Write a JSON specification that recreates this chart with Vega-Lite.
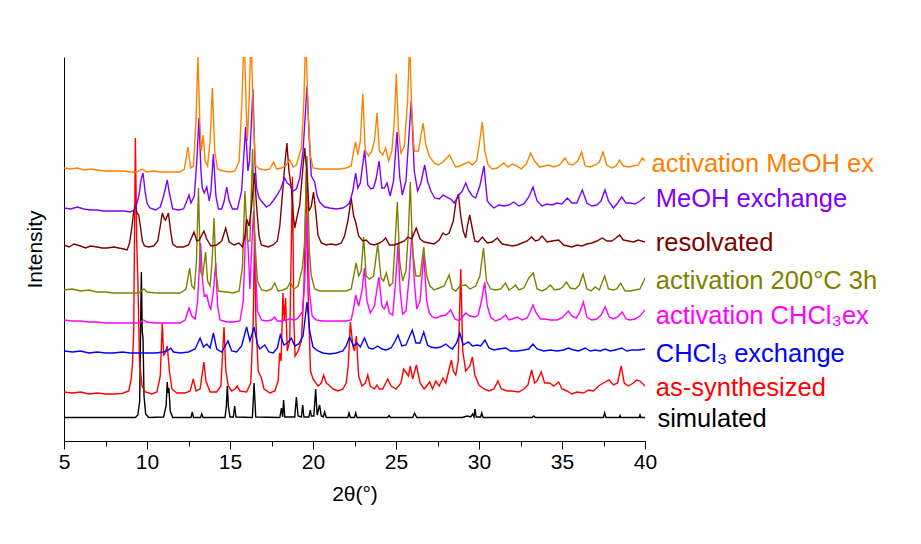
{
"$schema": "https://vega.github.io/schema/vega-lite/v6.json",
"width": 581, "height": 384,
"autosize": {"type": "none"},
"padding": {"left": 64, "top": 57, "right": 276, "bottom": 103},
"config": {"font": "Liberation Sans", "view": {"stroke": null}},
"datasets": {
"sim": [{"x":5,"y":23.5},{"x":8,"y":23.5},{"x":9.3,"y":23.5},{"x":9.45,"y":26},{"x":9.56,"y":40},{"x":9.66,"y":169},{"x":9.71,"y":110},{"x":9.76,"y":103},{"x":9.82,"y":45},{"x":9.92,"y":27},{"x":10.1,"y":23.5},{"x":11.0,"y":24},{"x":11.15,"y":35},{"x":11.22,"y":59},{"x":11.27,"y":48},{"x":11.32,"y":53},{"x":11.4,"y":30},{"x":11.55,"y":23.5},{"x":12.65,"y":23.5},{"x":12.73,"y":29},{"x":12.8,"y":23.5},{"x":13.22,"y":23.5},{"x":13.3,"y":27},{"x":13.38,"y":23.5},{"x":14.7,"y":23.5},{"x":14.78,"y":35},{"x":14.84,"y":55},{"x":14.9,"y":35},{"x":15.0,"y":24},{"x":15.2,"y":24},{"x":15.28,"y":35},{"x":15.36,"y":24},{"x":16.35,"y":23.5},{"x":16.45,"y":58},{"x":16.55,"y":24},{"x":18.0,"y":23.5},{"x":18.1,"y":33},{"x":18.17,"y":24},{"x":18.23,"y":41},{"x":18.3,"y":24},{"x":18.9,"y":24},{"x":19.0,"y":44},{"x":19.1,"y":25},{"x":19.3,"y":24},{"x":19.38,"y":36},{"x":19.45,"y":24},{"x":19.75,"y":24},{"x":19.84,"y":31},{"x":19.9,"y":25},{"x":20.05,"y":25},{"x":20.16,"y":52},{"x":20.25,"y":26},{"x":20.4,"y":36},{"x":20.5,"y":25},{"x":20.62,"y":24},{"x":20.7,"y":29},{"x":20.8,"y":23.5},{"x":22.1,"y":23.5},{"x":22.17,"y":28},{"x":22.25,"y":23.5},{"x":22.5,"y":23.5},{"x":22.57,"y":28},{"x":22.65,"y":23.5},{"x":24.5,"y":23.5},{"x":24.58,"y":25.5},{"x":24.66,"y":23.5},{"x":26.0,"y":23.5},{"x":26.12,"y":27.7},{"x":26.25,"y":23.5},{"x":29.0,"y":23.5},{"x":29.3,"y":25},{"x":29.5,"y":24},{"x":29.62,"y":27},{"x":29.7,"y":24},{"x":29.76,"y":32},{"x":29.83,"y":24},{"x":30.1,"y":24},{"x":30.16,"y":28},{"x":30.25,"y":23.5},{"x":33.2,"y":23.5},{"x":33.3,"y":25},{"x":33.4,"y":23.5},{"x":37.5,"y":23.5},{"x":37.57,"y":28},{"x":37.65,"y":23.5},{"x":38.45,"y":23.5},{"x":38.5,"y":25.5},{"x":38.55,"y":23.5},{"x":39.65,"y":23.5},{"x":39.7,"y":26},{"x":39.75,"y":23.5},{"x":40,"y":23.5}],
"red": [{"x":5.0,"y":49},{"x":5.5,"y":48},{"x":6.0,"y":49},{"x":6.5,"y":47},{"x":7.0,"y":48},{"x":7.5,"y":47},{"x":8.0,"y":47},{"x":8.5,"y":47.5},{"x":8.9,"y":50},{"x":9.05,"y":62},{"x":9.12,"y":76},{"x":9.2,"y":110},{"x":9.3,"y":303},{"x":9.38,"y":200},{"x":9.45,"y":160},{"x":9.55,"y":80},{"x":9.7,"y":55},{"x":9.9,"y":49},{"x":10.3,"y":47},{"x":10.6,"y":49},{"x":10.8,"y":65},{"x":10.92,"y":118},{"x":11.0,"y":86},{"x":11.1,"y":88},{"x":11.22,"y":95},{"x":11.35,"y":70},{"x":11.5,"y":52},{"x":11.8,"y":48},{"x":12.3,"y":48},{"x":12.6,"y":50},{"x":12.79,"y":62},{"x":12.95,"y":50},{"x":13.2,"y":52},{"x":13.35,"y":70},{"x":13.43,"y":79},{"x":13.55,"y":60},{"x":13.8,"y":49},{"x":14.2,"y":49},{"x":14.45,"y":55},{"x":14.64,"y":114},{"x":14.75,"y":70},{"x":14.9,"y":55},{"x":15.1,"y":50},{"x":15.3,"y":52},{"x":15.44,"y":55},{"x":15.6,"y":50},{"x":16.0,"y":49},{"x":16.25,"y":58},{"x":16.4,"y":120},{"x":16.48,"y":208},{"x":16.56,"y":120},{"x":16.7,"y":70},{"x":16.89,"y":63},{"x":17.05,"y":52},{"x":17.4,"y":48},{"x":17.7,"y":50},{"x":17.9,"y":60},{"x":17.99,"y":88},{"x":18.08,"y":80},{"x":18.19,"y":148},{"x":18.27,"y":120},{"x":18.35,"y":143},{"x":18.45,"y":90},{"x":18.6,"y":100},{"x":18.76,"y":264},{"x":18.85,"y":120},{"x":18.92,"y":85},{"x":19.1,"y":90},{"x":19.3,"y":100},{"x":19.45,"y":150},{"x":19.6,"y":271},{"x":19.7,"y":150},{"x":19.85,"y":70},{"x":20.0,"y":62},{"x":20.3,"y":55},{"x":20.5,"y":58},{"x":20.64,"y":66},{"x":20.8,"y":58},{"x":20.96,"y":56},{"x":21.2,"y":52},{"x":21.5,"y":50},{"x":21.8,"y":52},{"x":22.0,"y":58},{"x":22.12,"y":75},{"x":22.25,"y":119},{"x":22.4,"y":95},{"x":22.5,"y":90},{"x":22.61,"y":105},{"x":22.75,"y":65},{"x":22.95,"y":55},{"x":23.15,"y":58},{"x":23.3,"y":66},{"x":23.45,"y":55},{"x":23.7,"y":52},{"x":23.85,"y":56},{"x":24.0,"y":52},{"x":24.2,"y":52},{"x":24.5,"y":62},{"x":24.7,"y":55},{"x":25.0,"y":52},{"x":25.3,"y":58},{"x":25.46,"y":72},{"x":25.63,"y":68},{"x":25.75,"y":65},{"x":25.86,"y":75},{"x":26.0,"y":62},{"x":26.23,"y":76},{"x":26.45,"y":58},{"x":26.7,"y":52},{"x":27.03,"y":59},{"x":27.2,"y":52},{"x":27.4,"y":60},{"x":27.6,"y":55},{"x":27.83,"y":63},{"x":28.0,"y":58},{"x":28.2,"y":72},{"x":28.34,"y":81},{"x":28.45,"y":70},{"x":28.6,"y":66},{"x":28.75,"y":80},{"x":28.9,"y":172},{"x":29.02,"y":90},{"x":29.2,"y":70},{"x":29.45,"y":75},{"x":29.6,"y":84},{"x":29.75,"y":66},{"x":30.0,"y":56},{"x":30.3,"y":52},{"x":30.6,"y":50},{"x":30.9,"y":52},{"x":31.14,"y":60},{"x":31.35,"y":52},{"x":31.7,"y":50},{"x":32.0,"y":50},{"x":32.4,"y":49},{"x":32.7,"y":52},{"x":32.95,"y":56},{"x":33.17,"y":71},{"x":33.35,"y":58},{"x":33.5,"y":60},{"x":33.75,"y":69},{"x":33.95,"y":58},{"x":34.26,"y":58},{"x":34.5,"y":55},{"x":34.8,"y":59},{"x":35.0,"y":52},{"x":35.3,"y":50},{"x":35.6,"y":47},{"x":35.9,"y":49},{"x":36.3,"y":48},{"x":36.6,"y":51},{"x":36.9,"y":50},{"x":37.2,"y":55},{"x":37.5,"y":58},{"x":37.83,"y":61},{"x":38.1,"y":56},{"x":38.35,"y":58},{"x":38.57,"y":75},{"x":38.75,"y":58},{"x":39.0,"y":55},{"x":39.3,"y":58},{"x":39.5,"y":61},{"x":39.7,"y":60},{"x":40.0,"y":55}],
"blue": [{"x":5.0,"y":90},{"x":5.5,"y":89},{"x":6.0,"y":90},{"x":6.5,"y":88},{"x":7.0,"y":89},{"x":7.5,"y":88},{"x":8.0,"y":88},{"x":8.5,"y":89},{"x":9.0,"y":88},{"x":9.5,"y":88},{"x":10.0,"y":88},{"x":10.5,"y":88},{"x":11.0,"y":89},{"x":11.3,"y":91},{"x":11.43,"y":93},{"x":11.6,"y":89},{"x":12.0,"y":88},{"x":12.5,"y":89},{"x":12.9,"y":92},{"x":13.2,"y":103},{"x":13.4,"y":94},{"x":13.6,"y":97},{"x":13.8,"y":93},{"x":14.0,"y":108},{"x":14.2,"y":92},{"x":14.5,"y":89},{"x":14.88,"y":100},{"x":15.1,"y":90},{"x":15.4,"y":89},{"x":15.7,"y":95},{"x":16.0,"y":114},{"x":16.2,"y":100},{"x":16.45,"y":114},{"x":16.65,"y":97},{"x":16.8,"y":92},{"x":17.09,"y":96},{"x":17.35,"y":89},{"x":17.6,"y":88},{"x":17.85,"y":93},{"x":18.03,"y":106},{"x":18.25,"y":96},{"x":18.45,"y":98},{"x":18.7,"y":103},{"x":18.9,"y":95},{"x":19.14,"y":97},{"x":19.4,"y":105},{"x":19.64,"y":139},{"x":19.8,"y":110},{"x":20.0,"y":94},{"x":20.3,"y":90},{"x":20.6,"y":88},{"x":21.0,"y":87},{"x":21.4,"y":88},{"x":21.8,"y":90},{"x":22.0,"y":95},{"x":22.2,"y":104},{"x":22.45,"y":95},{"x":22.65,"y":98},{"x":22.85,"y":94},{"x":23.1,"y":103},{"x":23.35,"y":93},{"x":23.6,"y":92},{"x":23.9,"y":95},{"x":24.15,"y":92},{"x":24.4,"y":91},{"x":24.7,"y":93},{"x":24.95,"y":100},{"x":25.12,"y":106},{"x":25.35,"y":95},{"x":25.6,"y":96},{"x":25.98,"y":111},{"x":26.2,"y":98},{"x":26.45,"y":98},{"x":26.67,"y":109},{"x":26.9,"y":96},{"x":27.1,"y":94},{"x":27.4,"y":93},{"x":27.7,"y":94},{"x":28.0,"y":97},{"x":28.2,"y":94},{"x":28.4,"y":92},{"x":28.65,"y":98},{"x":28.84,"y":108},{"x":29.05,"y":96},{"x":29.36,"y":99},{"x":29.6,"y":95},{"x":29.9,"y":96},{"x":30.1,"y":95},{"x":30.36,"y":101},{"x":30.6,"y":93},{"x":30.9,"y":91},{"x":31.2,"y":92},{"x":31.6,"y":93},{"x":31.9,"y":90},{"x":32.3,"y":90},{"x":32.7,"y":91},{"x":33.0,"y":92},{"x":33.25,"y":97},{"x":33.5,"y":92},{"x":33.9,"y":90},{"x":34.3,"y":91},{"x":34.7,"y":90},{"x":35.1,"y":91},{"x":35.38,"y":93},{"x":35.7,"y":91},{"x":36.0,"y":90},{"x":36.4,"y":93},{"x":36.7,"y":90},{"x":37.0,"y":91},{"x":37.3,"y":90},{"x":37.6,"y":92},{"x":37.9,"y":90},{"x":38.2,"y":91},{"x":38.6,"y":93},{"x":38.9,"y":90},{"x":39.2,"y":91},{"x":39.6,"y":91},{"x":40.0,"y":92}],
"magenta": [{"x":5.0,"y":121},{"x":5.5,"y":120},{"x":6.0,"y":120},{"x":6.5,"y":119},{"x":7.0,"y":119},{"x":7.5,"y":118},{"x":8.0,"y":118},{"x":8.5,"y":118},{"x":9.0,"y":118},{"x":9.5,"y":118},{"x":9.8,"y":121},{"x":10.0,"y":119},{"x":10.5,"y":118},{"x":11.0,"y":118},{"x":11.5,"y":118},{"x":12.0,"y":118},{"x":12.3,"y":121},{"x":12.53,"y":133},{"x":12.7,"y":125},{"x":12.9,"y":122},{"x":13.05,"y":140},{"x":13.23,"y":198},{"x":13.35,"y":160},{"x":13.45,"y":145},{"x":13.6,"y":146},{"x":13.75,"y":135},{"x":13.84,"y":132},{"x":14.0,"y":150},{"x":14.14,"y":178},{"x":14.25,"y":135},{"x":14.4,"y":121},{"x":14.8,"y":119},{"x":15.2,"y":119},{"x":15.6,"y":120},{"x":15.8,"y":140},{"x":15.92,"y":200},{"x":16.0,"y":220},{"x":16.1,"y":190},{"x":16.2,"y":152},{"x":16.3,"y":190},{"x":16.42,"y":230},{"x":16.52,"y":180},{"x":16.65,"y":130},{"x":16.9,"y":121},{"x":17.2,"y":120},{"x":17.5,"y":121},{"x":17.69,"y":124},{"x":17.85,"y":120},{"x":18.1,"y":120},{"x":18.4,"y":121},{"x":18.6,"y":122},{"x":18.9,"y":121},{"x":19.1,"y":123},{"x":19.36,"y":129},{"x":19.5,"y":160},{"x":19.65,"y":225},{"x":19.78,"y":150},{"x":19.95,"y":125},{"x":20.2,"y":121},{"x":20.6,"y":120},{"x":21.0,"y":120},{"x":21.5,"y":120},{"x":22.0,"y":120},{"x":22.3,"y":121},{"x":22.45,"y":133},{"x":22.57,"y":146},{"x":22.75,"y":135},{"x":22.95,"y":150},{"x":23.1,"y":173},{"x":23.25,"y":140},{"x":23.45,"y":128},{"x":23.7,"y":135},{"x":23.97,"y":164},{"x":24.15,"y":135},{"x":24.3,"y":132},{"x":24.46,"y":139},{"x":24.6,"y":128},{"x":24.8,"y":126},{"x":24.98,"y":160},{"x":25.12,"y":197},{"x":25.25,"y":150},{"x":25.4,"y":127},{"x":25.6,"y":130},{"x":25.8,"y":165},{"x":25.96,"y":210},{"x":26.1,"y":160},{"x":26.25,"y":132},{"x":26.45,"y":140},{"x":26.67,"y":186},{"x":26.85,"y":140},{"x":27.0,"y":128},{"x":27.2,"y":124},{"x":27.4,"y":123},{"x":27.7,"y":125},{"x":28.0,"y":126},{"x":28.3,"y":131},{"x":28.55,"y":122},{"x":28.8,"y":120},{"x":29.0,"y":124},{"x":29.2,"y":128},{"x":29.45,"y":125},{"x":29.75,"y":124},{"x":29.95,"y":126},{"x":30.15,"y":140},{"x":30.34,"y":159},{"x":30.5,"y":135},{"x":30.7,"y":124},{"x":31.0,"y":120},{"x":31.3,"y":122},{"x":31.6,"y":126},{"x":31.8,"y":121},{"x":32.0,"y":122},{"x":32.3,"y":124},{"x":32.6,"y":121},{"x":32.9,"y":123},{"x":33.05,"y":128},{"x":33.25,"y":136},{"x":33.45,"y":128},{"x":33.7,"y":122},{"x":34.0,"y":122},{"x":34.3,"y":121},{"x":34.7,"y":121},{"x":35.0,"y":123},{"x":35.38,"y":130},{"x":35.6,"y":125},{"x":35.85,"y":123},{"x":36.05,"y":128},{"x":36.29,"y":139},{"x":36.5,"y":124},{"x":36.8,"y":121},{"x":37.1,"y":122},{"x":37.35,"y":126},{"x":37.6,"y":134},{"x":37.85,"y":124},{"x":38.1,"y":122},{"x":38.35,"y":124},{"x":38.63,"y":129},{"x":38.85,"y":122},{"x":39.1,"y":121},{"x":39.4,"y":122},{"x":39.7,"y":125},{"x":40.0,"y":131}],
"olive": [{"x":5.0,"y":151},{"x":5.5,"y":152},{"x":6.0,"y":150},{"x":6.5,"y":151},{"x":7.0,"y":149},{"x":7.5,"y":149},{"x":8.0,"y":148},{"x":8.5,"y":148},{"x":9.0,"y":148},{"x":9.5,"y":148},{"x":9.82,"y":152},{"x":10.0,"y":149},{"x":10.5,"y":148},{"x":11.0,"y":148},{"x":11.5,"y":148},{"x":12.0,"y":148},{"x":12.35,"y":152},{"x":12.57,"y":173},{"x":12.7,"y":155},{"x":12.85,"y":152},{"x":12.98,"y":180},{"x":13.1,"y":253},{"x":13.22,"y":170},{"x":13.35,"y":165},{"x":13.53,"y":189},{"x":13.65,"y":160},{"x":13.8,"y":155},{"x":13.92,"y":180},{"x":14.04,"y":223},{"x":14.15,"y":170},{"x":14.3,"y":150},{"x":14.8,"y":149},{"x":15.2,"y":148},{"x":15.55,"y":150},{"x":15.75,"y":175},{"x":15.9,"y":250},{"x":16.05,"y":200},{"x":16.2,"y":200},{"x":16.36,"y":292},{"x":16.5,"y":200},{"x":16.65,"y":160},{"x":16.9,"y":151},{"x":17.2,"y":150},{"x":17.5,"y":152},{"x":17.69,"y":158},{"x":17.9,"y":150},{"x":18.2,"y":151},{"x":18.45,"y":153},{"x":18.63,"y":159},{"x":18.85,"y":152},{"x":19.1,"y":155},{"x":19.36,"y":173},{"x":19.5,"y":200},{"x":19.64,"y":285},{"x":19.78,"y":190},{"x":19.9,"y":165},{"x":20.1,"y":152},{"x":20.4,"y":150},{"x":20.8,"y":150},{"x":21.2,"y":150},{"x":21.6,"y":150},{"x":22.0,"y":150},{"x":22.3,"y":152},{"x":22.45,"y":165},{"x":22.6,"y":178},{"x":22.75,"y":165},{"x":22.9,"y":170},{"x":23.05,"y":204},{"x":23.2,"y":165},{"x":23.4,"y":162},{"x":23.65,"y":165},{"x":23.9,"y":197},{"x":24.1,"y":163},{"x":24.25,"y":160},{"x":24.42,"y":168},{"x":24.6,"y":155},{"x":24.8,"y":158},{"x":24.95,"y":200},{"x":25.08,"y":239},{"x":25.22,"y":180},{"x":25.4,"y":160},{"x":25.6,"y":170},{"x":25.75,"y":210},{"x":25.86,"y":259},{"x":26.0,"y":190},{"x":26.2,"y":165},{"x":26.45,"y":165},{"x":26.67,"y":194},{"x":26.85,"y":165},{"x":27.05,"y":155},{"x":27.3,"y":151},{"x":27.6,"y":153},{"x":27.9,"y":155},{"x":28.2,"y":166},{"x":28.4,"y":152},{"x":28.6,"y":150},{"x":28.85,"y":155},{"x":29.2,"y":156},{"x":29.45,"y":152},{"x":29.8,"y":155},{"x":30.05,"y":165},{"x":30.27,"y":193},{"x":30.45,"y":160},{"x":30.7,"y":152},{"x":31.0,"y":151},{"x":31.3,"y":152},{"x":31.6,"y":158},{"x":31.8,"y":151},{"x":32.0,"y":153},{"x":32.2,"y":156},{"x":32.4,"y":151},{"x":32.7,"y":153},{"x":33.0,"y":163},{"x":33.27,"y":168},{"x":33.5,"y":152},{"x":33.8,"y":150},{"x":34.05,"y":152},{"x":34.3,"y":156},{"x":34.55,"y":151},{"x":34.85,"y":152},{"x":35.05,"y":154},{"x":35.26,"y":159},{"x":35.5,"y":153},{"x":35.8,"y":152},{"x":36.05,"y":156},{"x":36.27,"y":167},{"x":36.5,"y":152},{"x":36.75,"y":150},{"x":37.0,"y":154},{"x":37.25,"y":151},{"x":37.57,"y":165},{"x":37.8,"y":152},{"x":38.1,"y":151},{"x":38.3,"y":152},{"x":38.53,"y":158},{"x":38.8,"y":150},{"x":39.1,"y":150},{"x":39.4,"y":151},{"x":39.7,"y":152},{"x":40.0,"y":163}],
"maroon": [{"x":5.0,"y":196},{"x":5.3,"y":194},{"x":5.6,"y":197},{"x":6.0,"y":195},{"x":6.3,"y":193},{"x":6.6,"y":195},{"x":7.0,"y":194},{"x":7.3,"y":193},{"x":7.6,"y":193},{"x":8.0,"y":194},{"x":8.3,"y":193},{"x":8.6,"y":192},{"x":8.8,"y":191},{"x":8.95,"y":198},{"x":9.1,"y":215},{"x":9.2,"y":230},{"x":9.3,"y":236},{"x":9.4,"y":228},{"x":9.5,"y":226},{"x":9.6,"y":215},{"x":9.72,"y":200},{"x":9.85,"y":195},{"x":10.1,"y":194},{"x":10.4,"y":195},{"x":10.65,"y":200},{"x":10.8,"y":215},{"x":10.92,"y":228},{"x":11.05,"y":222},{"x":11.12,"y":221},{"x":11.29,"y":228},{"x":11.42,"y":210},{"x":11.55,"y":197},{"x":11.8,"y":194},{"x":12.2,"y":194},{"x":12.5,"y":196},{"x":12.83,"y":209},{"x":13.0,"y":200},{"x":13.15,"y":201},{"x":13.43,"y":210},{"x":13.6,"y":202},{"x":13.85,"y":195},{"x":14.2,"y":196},{"x":14.5,"y":200},{"x":14.74,"y":213},{"x":14.95,"y":199},{"x":15.25,"y":196},{"x":15.54,"y":198},{"x":15.75,"y":194},{"x":15.9,"y":205},{"x":16.0,"y":222},{"x":16.15,"y":215},{"x":16.3,"y":235},{"x":16.47,"y":268},{"x":16.6,"y":235},{"x":16.75,"y":205},{"x":16.89,"y":196},{"x":17.1,"y":195},{"x":17.3,"y":194},{"x":17.6,"y":196},{"x":17.85,"y":200},{"x":18.0,"y":215},{"x":18.19,"y":253},{"x":18.32,"y":280},{"x":18.43,"y":298},{"x":18.55,"y":270},{"x":18.7,"y":253},{"x":18.82,"y":225},{"x":18.9,"y":213},{"x":19.05,"y":225},{"x":19.2,"y":236},{"x":19.35,"y":265},{"x":19.5,"y":293},{"x":19.62,"y":270},{"x":19.76,"y":230},{"x":19.9,"y":235},{"x":20.03,"y":249},{"x":20.15,"y":232},{"x":20.3,"y":206},{"x":20.5,"y":198},{"x":20.8,"y":196},{"x":21.1,"y":197},{"x":21.4,"y":196},{"x":21.7,"y":198},{"x":21.9,"y":205},{"x":22.1,"y":220},{"x":22.3,"y":243},{"x":22.45,"y":225},{"x":22.57,"y":219},{"x":22.75,"y":205},{"x":23.0,"y":200},{"x":23.2,"y":201},{"x":23.45,"y":197},{"x":23.7,"y":196},{"x":24.0,"y":198},{"x":24.2,"y":200},{"x":24.38,"y":203},{"x":24.6,"y":196},{"x":24.9,"y":196},{"x":25.2,"y":198},{"x":25.5,"y":200},{"x":25.72,"y":204},{"x":25.95,"y":202},{"x":26.22,"y":213},{"x":26.45,"y":202},{"x":26.7,"y":199},{"x":27.0,"y":198},{"x":27.3,"y":197},{"x":27.6,"y":201},{"x":27.83,"y":208},{"x":28.0,"y":206},{"x":28.2,"y":208},{"x":28.45,"y":220},{"x":28.62,"y":240},{"x":28.76,"y":247},{"x":28.9,"y":225},{"x":29.05,"y":210},{"x":29.2,"y":203},{"x":29.3,"y":215},{"x":29.44,"y":226},{"x":29.6,"y":212},{"x":29.75,"y":200},{"x":29.95,"y":199},{"x":30.2,"y":204},{"x":30.5,"y":198},{"x":30.8,"y":199},{"x":31.1,"y":203},{"x":31.4,"y":197},{"x":31.7,"y":196},{"x":32.0,"y":195},{"x":32.3,"y":196},{"x":32.6,"y":198},{"x":32.9,"y":200},{"x":33.17,"y":204},{"x":33.4,"y":200},{"x":33.6,"y":201},{"x":33.8,"y":205},{"x":34.1,"y":199},{"x":34.4,"y":200},{"x":34.8,"y":201},{"x":35.1,"y":196},{"x":35.35,"y":195},{"x":35.6,"y":194},{"x":35.9,"y":196},{"x":36.2,"y":195},{"x":36.5,"y":197},{"x":36.8,"y":198},{"x":37.1,"y":200},{"x":37.43,"y":203},{"x":37.7,"y":200},{"x":38.0,"y":200},{"x":38.25,"y":203},{"x":38.47,"y":206},{"x":38.7,"y":201},{"x":39.0,"y":200},{"x":39.3,"y":199},{"x":39.6,"y":201},{"x":40.0,"y":199}],
"violet": [{"x":5.0,"y":233},{"x":5.4,"y":232},{"x":5.8,"y":234},{"x":6.2,"y":232},{"x":6.6,"y":231},{"x":7.0,"y":231},{"x":7.4,"y":230},{"x":7.8,"y":230},{"x":8.2,"y":230},{"x":8.6,"y":230},{"x":9.0,"y":229},{"x":9.3,"y":232},{"x":9.52,"y":246},{"x":9.65,"y":262},{"x":9.76,"y":268},{"x":9.88,"y":250},{"x":10.0,"y":238},{"x":10.18,"y":233},{"x":10.5,"y":231},{"x":10.8,"y":234},{"x":11.0,"y":245},{"x":11.22,"y":261},{"x":11.35,"y":248},{"x":11.55,"y":232},{"x":11.9,"y":231},{"x":12.2,"y":232},{"x":12.4,"y":240},{"x":12.53,"y":246},{"x":12.65,"y":238},{"x":12.85,"y":245},{"x":13.0,"y":280},{"x":13.13,"y":323},{"x":13.25,"y":270},{"x":13.33,"y":253},{"x":13.45,"y":248},{"x":13.6,"y":254},{"x":13.75,"y":240},{"x":13.85,"y":250},{"x":14.0,"y":287},{"x":14.15,"y":245},{"x":14.3,"y":232},{"x":14.5,"y":232},{"x":14.65,"y":240},{"x":14.8,"y":254},{"x":14.95,"y":240},{"x":15.15,"y":232},{"x":15.45,"y":232},{"x":15.7,"y":250},{"x":15.94,"y":314},{"x":16.08,"y":270},{"x":16.18,"y":280},{"x":16.38,"y":352},{"x":16.5,"y":280},{"x":16.6,"y":253},{"x":16.75,"y":243},{"x":16.89,"y":240},{"x":17.19,"y":234},{"x":17.4,"y":236},{"x":17.59,"y":240},{"x":17.8,"y":245},{"x":18.05,"y":252},{"x":18.29,"y":263},{"x":18.45,"y":258},{"x":18.6,"y":256},{"x":18.8,"y":250},{"x":19.0,"y":252},{"x":19.2,"y":263},{"x":19.4,"y":290},{"x":19.64,"y":355},{"x":19.78,"y":300},{"x":19.9,"y":265},{"x":20.1,"y":259},{"x":20.25,"y":245},{"x":20.4,"y":239},{"x":20.7,"y":234},{"x":21.0,"y":233},{"x":21.4,"y":232},{"x":21.8,"y":233},{"x":22.0,"y":235},{"x":22.2,"y":238},{"x":22.4,"y":250},{"x":22.57,"y":268},{"x":22.7,"y":253},{"x":22.85,"y":258},{"x":23.11,"y":291},{"x":23.3,"y":256},{"x":23.5,"y":252},{"x":23.65,"y":253},{"x":23.8,"y":262},{"x":23.98,"y":280},{"x":24.15,"y":253},{"x":24.3,"y":253},{"x":24.46,"y":258},{"x":24.65,"y":245},{"x":24.85,"y":260},{"x":25.06,"y":309},{"x":25.22,"y":265},{"x":25.38,"y":246},{"x":25.6,"y":260},{"x":25.92,"y":340},{"x":26.1,"y":270},{"x":26.3,"y":250},{"x":26.5,"y":258},{"x":26.73,"y":276},{"x":26.9,"y":260},{"x":27.1,"y":250},{"x":27.33,"y":243},{"x":27.6,"y":242},{"x":27.85,"y":246},{"x":28.03,"y":244},{"x":28.3,"y":242},{"x":28.5,"y":238},{"x":28.75,"y":245},{"x":29.0,"y":250},{"x":29.2,"y":258},{"x":29.4,"y":250},{"x":29.6,"y":245},{"x":29.8,"y":243},{"x":30.05,"y":255},{"x":30.3,"y":275},{"x":30.5,"y":240},{"x":30.7,"y":236},{"x":30.9,"y":233},{"x":31.2,"y":236},{"x":31.5,"y":235},{"x":31.8,"y":236},{"x":32.1,"y":239},{"x":32.4,"y":235},{"x":32.7,"y":237},{"x":33.0,"y":244},{"x":33.25,"y":254},{"x":33.5,"y":240},{"x":33.8,"y":235},{"x":34.1,"y":237},{"x":34.4,"y":236},{"x":34.7,"y":238},{"x":35.0,"y":237},{"x":35.32,"y":243},{"x":35.6,"y":238},{"x":35.9,"y":238},{"x":36.22,"y":251},{"x":36.5,"y":238},{"x":36.8,"y":235},{"x":37.1,"y":236},{"x":37.35,"y":240},{"x":37.59,"y":251},{"x":37.8,"y":240},{"x":38.1,"y":233},{"x":38.35,"y":238},{"x":38.6,"y":244},{"x":38.85,"y":238},{"x":39.1,"y":238},{"x":39.4,"y":237},{"x":39.7,"y":240},{"x":40.0,"y":244}],
"orange": [{"x":5.0,"y":273},{"x":5.4,"y":272},{"x":5.8,"y":273},{"x":6.2,"y":271},{"x":6.6,"y":272},{"x":7.0,"y":271},{"x":7.4,"y":270},{"x":7.8,"y":270},{"x":8.2,"y":270},{"x":8.6,"y":270},{"x":9.0,"y":269},{"x":9.4,"y":269},{"x":9.7,"y":272},{"x":10.0,"y":269},{"x":10.4,"y":270},{"x":10.8,"y":269},{"x":11.2,"y":269},{"x":11.6,"y":269},{"x":12.0,"y":269},{"x":12.25,"y":272},{"x":12.47,"y":294},{"x":12.62,"y":273},{"x":12.8,"y":275},{"x":12.95,"y":320},{"x":13.07,"y":384},{"x":13.18,"y":320},{"x":13.27,"y":290},{"x":13.39,"y":306},{"x":13.5,"y":280},{"x":13.65,"y":275},{"x":13.8,"y":300},{"x":13.94,"y":353},{"x":14.08,"y":290},{"x":14.25,"y":272},{"x":14.6,"y":270},{"x":15.0,"y":269},{"x":15.3,"y":270},{"x":15.55,"y":280},{"x":15.72,"y":340},{"x":15.85,"y":410},{"x":15.98,"y":330},{"x":16.05,"y":300},{"x":16.15,"y":340},{"x":16.27,"y":410},{"x":16.4,"y":320},{"x":16.55,"y":275},{"x":16.8,"y":272},{"x":17.1,"y":271},{"x":17.4,"y":272},{"x":17.63,"y":279},{"x":17.8,"y":272},{"x":18.1,"y":273},{"x":18.4,"y":276},{"x":18.6,"y":281},{"x":18.8,"y":274},{"x":19.0,"y":276},{"x":19.3,"y":293},{"x":19.45,"y":340},{"x":19.56,"y":410},{"x":19.7,"y":330},{"x":19.85,"y":285},{"x":20.0,"y":273},{"x":20.4,"y":272},{"x":20.8,"y":272},{"x":21.2,"y":272},{"x":21.6,"y":272},{"x":22.0,"y":273},{"x":22.3,"y":275},{"x":22.45,"y":290},{"x":22.57,"y":299},{"x":22.7,"y":286},{"x":22.85,"y":300},{"x":23.0,"y":347},{"x":23.15,"y":290},{"x":23.35,"y":285},{"x":23.55,"y":290},{"x":23.7,"y":300},{"x":23.86,"y":328},{"x":24.0,"y":290},{"x":24.2,"y":286},{"x":24.38,"y":293},{"x":24.55,"y":280},{"x":24.75,"y":290},{"x":24.9,"y":320},{"x":25.02,"y":367},{"x":25.15,"y":310},{"x":25.3,"y":288},{"x":25.5,"y":295},{"x":25.7,"y":340},{"x":25.82,"y":400},{"x":25.95,"y":330},{"x":26.1,"y":290},{"x":26.35,"y":290},{"x":26.63,"y":318},{"x":26.8,"y":296},{"x":27.0,"y":285},{"x":27.3,"y":278},{"x":27.55,"y":276},{"x":27.83,"y":279},{"x":28.05,"y":283},{"x":28.23,"y":286},{"x":28.4,"y":280},{"x":28.6,"y":274},{"x":28.85,"y":275},{"x":29.1,"y":277},{"x":29.4,"y":279},{"x":29.6,"y":276},{"x":29.85,"y":280},{"x":30.0,"y":295},{"x":30.2,"y":319},{"x":30.35,"y":290},{"x":30.55,"y":276},{"x":30.8,"y":272},{"x":31.1,"y":273},{"x":31.5,"y":278},{"x":31.75,"y":274},{"x":32.0,"y":277},{"x":32.3,"y":275},{"x":32.55,"y":272},{"x":32.85,"y":277},{"x":33.11,"y":288},{"x":33.35,"y":280},{"x":33.65,"y":274},{"x":33.95,"y":275},{"x":34.2,"y":276},{"x":34.5,"y":274},{"x":34.85,"y":276},{"x":35.18,"y":283},{"x":35.4,"y":277},{"x":35.65,"y":276},{"x":35.95,"y":280},{"x":36.18,"y":289},{"x":36.4,"y":275},{"x":36.7,"y":274},{"x":37.0,"y":276},{"x":37.25,"y":279},{"x":37.47,"y":289},{"x":37.7,"y":276},{"x":38.0,"y":273},{"x":38.25,"y":275},{"x":38.47,"y":281},{"x":38.7,"y":275},{"x":39.0,"y":274},{"x":39.3,"y":275},{"x":39.6,"y":276},{"x":39.84,"y":283},{"x":40.0,"y":280}],
"labels": [{"t":"activation MeOH ex","x":40.39,"y":277},{"t":"MeOH exchange","x":40.65,"y":242},{"t":"resolvated","x":40.65,"y":198},{"t":"activation 200°C 3h","x":40.65,"y":160},{"t":"activation CHCl₃ex","x":40.65,"y":125},{"t":"CHCl₃ exchange","x":40.65,"y":87},{"t":"as-synthesized","x":40.65,"y":53},{"t":"simulated","x":40.75,"y":22}]
},
"layer": [
{"data": {"name": "sim"}, "mark": {"type": "line", "color": "#000000", "strokeWidth": 1.4, "clip": true},
 "encoding": {
  "x": {"field": "x", "type": "quantitative", "scale": {"domain": [5, 40], "nice": false, "zero": false},
        "axis": {"orient": "bottom", "values": [5,10,15,20,25,30,35,40], "tickSize": 8, "tickColor": "#000", "domainColor": "#000", "grid": false, "labelFontSize": 21, "labelColor": "#000", "labelPadding": 2, "labelFlush": false, "labelOverlap": false, "title": "2θ(°)", "titleFontSize": 21, "titleFontWeight": "normal", "titleColor": "#000", "titlePadding": 11}},
  "y": {"field": "y", "type": "quantitative", "scale": {"domain": [0, 384], "nice": false, "zero": false},
        "axis": {"orient": "left", "ticks": false, "labels": false, "grid": false, "domainColor": "#000", "title": "Intensity", "titleFontSize": 21, "titleFontWeight": "normal", "titleColor": "#000", "titlePadding": 19}}
 }},
{"data": {"name": "red"}, "mark": {"type": "line", "color": "#FF0000", "strokeWidth": 1.4, "clip": true},
 "encoding": {"x": {"field": "x", "type": "quantitative", "axis": null}, "y": {"field": "y", "type": "quantitative", "axis": null}}},
{"data": {"name": "blue"}, "mark": {"type": "line", "color": "#0000FF", "strokeWidth": 1.4, "clip": true},
 "encoding": {"x": {"field": "x", "type": "quantitative", "axis": null}, "y": {"field": "y", "type": "quantitative", "axis": null}}},
{"data": {"name": "magenta"}, "mark": {"type": "line", "color": "#FF00FF", "strokeWidth": 1.4, "clip": true},
 "encoding": {"x": {"field": "x", "type": "quantitative", "axis": null}, "y": {"field": "y", "type": "quantitative", "axis": null}}},
{"data": {"name": "olive"}, "mark": {"type": "line", "color": "#808000", "strokeWidth": 1.4, "clip": true},
 "encoding": {"x": {"field": "x", "type": "quantitative", "axis": null}, "y": {"field": "y", "type": "quantitative", "axis": null}}},
{"data": {"name": "maroon"}, "mark": {"type": "line", "color": "#800000", "strokeWidth": 1.4, "clip": true},
 "encoding": {"x": {"field": "x", "type": "quantitative", "axis": null}, "y": {"field": "y", "type": "quantitative", "axis": null}}},
{"data": {"name": "violet"}, "mark": {"type": "line", "color": "#8000FF", "strokeWidth": 1.4, "clip": true},
 "encoding": {"x": {"field": "x", "type": "quantitative", "axis": null}, "y": {"field": "y", "type": "quantitative", "axis": null}}},
{"data": {"name": "orange"}, "mark": {"type": "line", "color": "#FF8000", "strokeWidth": 1.4, "clip": true},
 "encoding": {"x": {"field": "x", "type": "quantitative", "axis": null}, "y": {"field": "y", "type": "quantitative", "axis": null}}},
{"data": {"name": "labels"}, "mark": {"type": "text", "align": "left", "baseline": "middle", "fontSize": 25.5},
 "encoding": {
  "x": {"field": "x", "type": "quantitative", "axis": {"orient": "bottom", "values": [7.5,12.5,17.5,22.5,27.5,32.5,37.5], "tickSize": 5, "tickColor": "#000", "labels": false, "domain": false, "grid": false, "title": null}},
  "y": {"field": "y", "type": "quantitative", "axis": null},
  "text": {"field": "t"},
  "color": {"field": "t", "type": "nominal", "legend": null,
            "scale": {"domain": ["activation MeOH ex","MeOH exchange","resolvated","activation 200°C 3h","activation CHCl₃ex","CHCl₃ exchange","as-synthesized","simulated"],
                      "range": ["#FF8000","#8000FF","#800000","#808000","#FF00FF","#0000FF","#FF0000","#000000"]}}
 }}
],
"resolve": {"axis": {"x": "independent", "y": "independent"}}
}
